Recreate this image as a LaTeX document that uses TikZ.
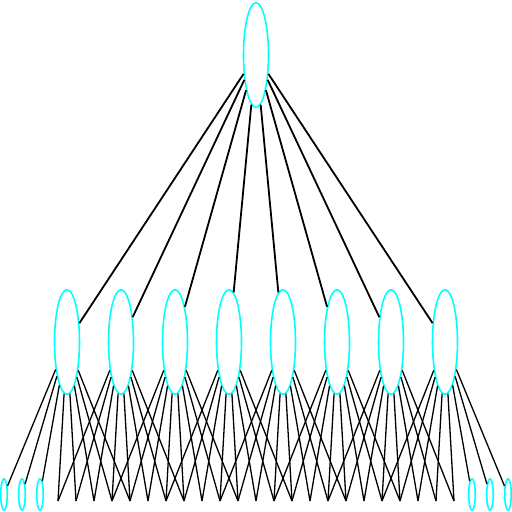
\documentclass[tikz,border=0pt]{standalone}
\usetikzlibrary{shapes}
\definecolor{nodecyan}{RGB}{0,255,255}

\begin{document}
\begin{tikzpicture}[x=1pt,y=-1pt,
  vertex/.style={ellipse,draw=nodecyan,line width=1.6pt,inner sep=0pt,minimum width=25pt,minimum height=104.5pt},
  leaf/.style={ellipse,draw=nodecyan,line width=1.6pt,inner sep=0pt,minimum width=6.5pt,minimum height=31.5pt}]
\useasboundingbox (0,0) rectangle (512,512);
% Draw the root
\node[vertex] (r) at (256,55) {};
% Draw the middle layer
\foreach \i in {0,...,7}
  \node[vertex] (m\i) at ({67+54*\i},342) {};
% Draw the leaves (only the outer three on each side are shown)
\foreach \j in {0,1,2,26,27,28}
  \node[leaf] (l\j) at ({4+18*\j},494.5) {};
\foreach \j in {3,...,25}
  \coordinate (l\j) at ({4+18*\j},501);
% Connect root to middle layer
\foreach \i in {0,...,7}
  \draw[line width=1.8pt] (r) -- (m\i);
% Connect each middle node to eight leaves
\foreach \i in {0,...,7}
  \foreach \k in {0,...,7} {
    \pgfmathtruncatemacro\j{3*\i+\k}
    \draw[line width=1.3pt] (m\i) -- (l\j);
  }
\end{tikzpicture}
\end{document}
